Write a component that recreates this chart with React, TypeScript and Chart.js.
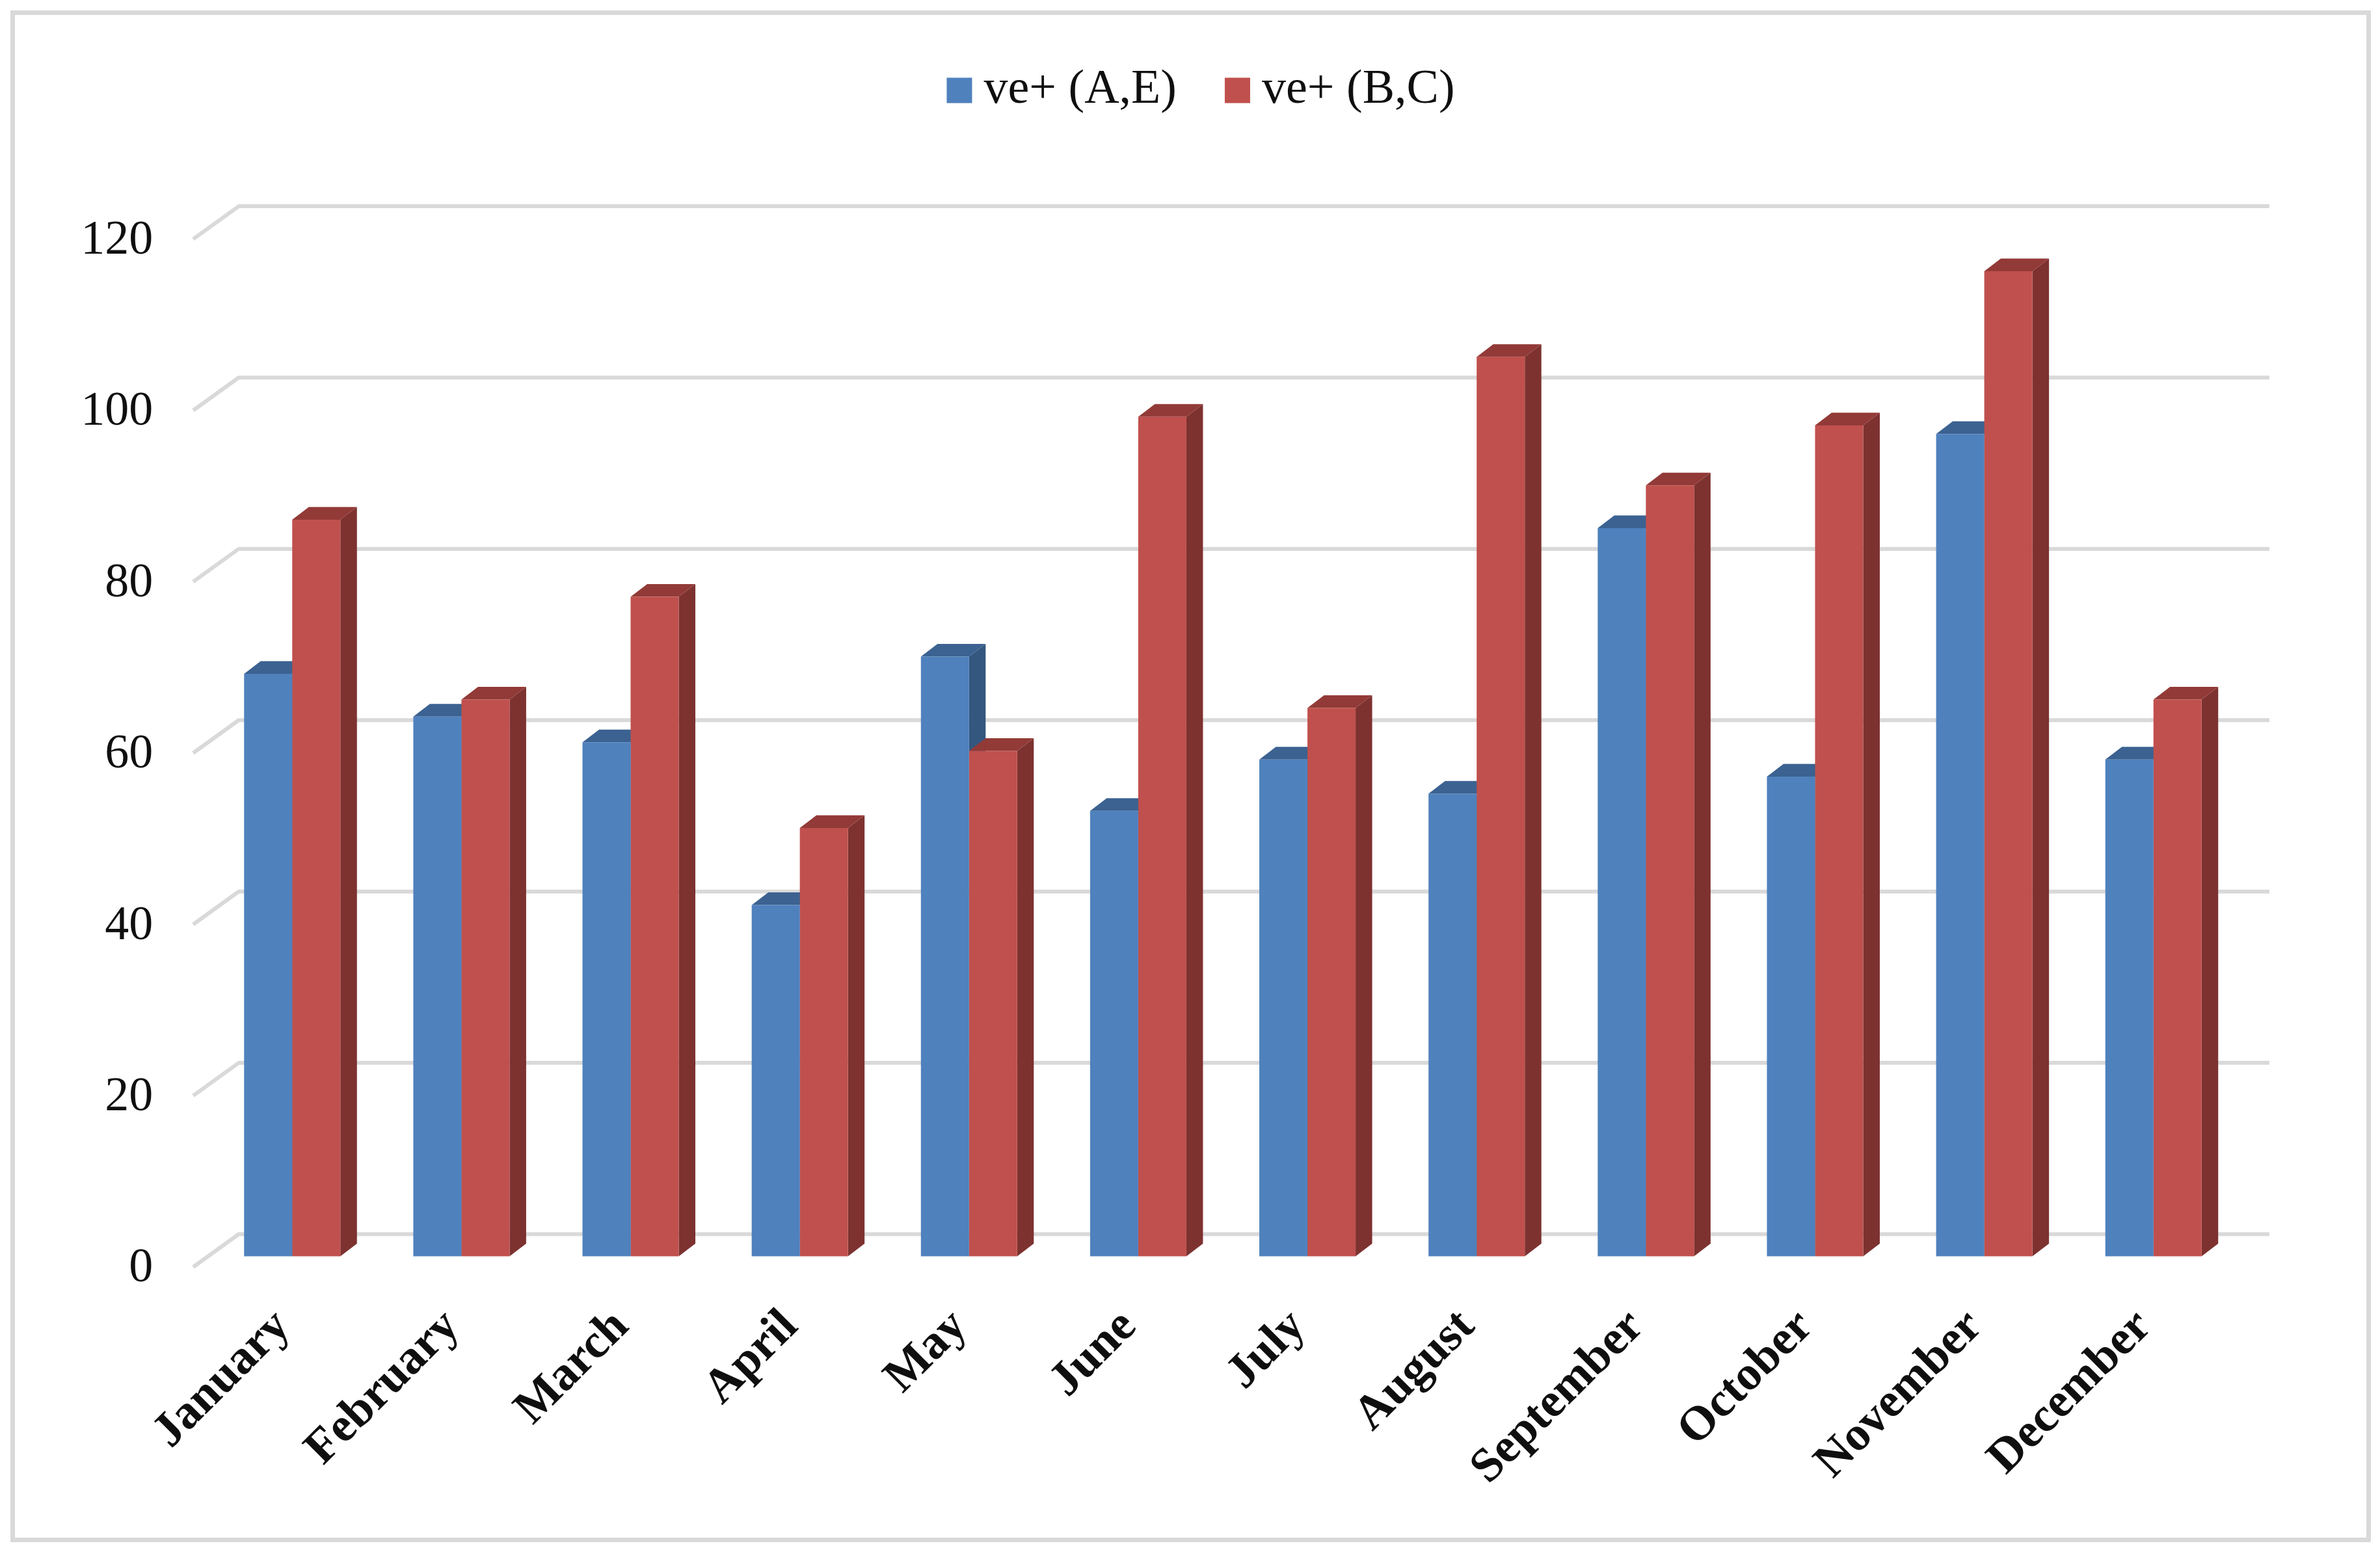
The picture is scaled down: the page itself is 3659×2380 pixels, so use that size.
import React, { useEffect, useRef } from "react";
import { Chart, registerables } from "chart.js";

Chart.register(...registerables);

const months = ["January", "February", "March", "April", "May", "June", "July", "August", "September", "October", "November", "December"];
const seriesAE = [68, 63, 60, 41, 70, 52, 58, 54, 85, 56, 96, 58];
const seriesBC = [86, 65, 77, 50, 59, 98, 64, 105, 90, 97, 115, 65];
const seriesNames = ["ve+ (A,E)", "ve+ (B,C)"];

const W = 3659;
const H = 2380;
const FONT = "'Liberation Serif', 'Times New Roman', serif";
const TEXT = "#0f0f0f";
const GRID = "#d9d9d9";
const UNIT = 13.17; // pixels per value unit
const LABEL_ZERO = 1951; // pixel of value 0 on the label axis
const BAR_ZERO = 1931.5; // pixel of value 0 for bar fronts
const DX = 25.5;
const DY = 19.5;

const faces = [
  { front: "#4f81bd", side: "#34577f", top: "#3b6291" },
  { front: "#c0504d", side: "#7d3230", top: "#923a37" },
];

const depthPlugin = {
  id: "depth",
  afterLayout(chart: any) {
    // the value labels sit left of the narrow axis box; widen the box so they are not clipped
    const y = chart.scales.y;
    y.left = 0;
    y.width = y.right;
  },
  beforeDraw(chart: any) {
    const { ctx } = chart;
    ctx.save();
    ctx.strokeStyle = GRID;
    ctx.lineWidth = 7;
    ctx.strokeRect(19.5, 19.5, 3622, 2348);
    ctx.restore();
  },
  beforeDatasetsDraw(chart: any) {
    const { ctx } = chart;
    const y = chart.scales.y;
    ctx.save();
    ctx.strokeStyle = GRID;
    ctx.lineWidth = 6;
    ctx.lineJoin = "round";
    y.ticks.forEach((t: any) => {
      const p = y.getPixelForValue(t.value);
      ctx.beginPath();
      ctx.moveTo(297, p - 3);
      ctx.lineTo(367, p - 53.5);
      ctx.lineTo(3489, p - 53.5);
      ctx.stroke();
    });
    // side and top faces of every bar, first series first so the second overlaps it
    faces.forEach((face, index) => {
      chart.getDatasetMeta(index).data.forEach((bar: any) => {
        const l = bar.x - bar.width / 2;
        const r = bar.x + bar.width / 2;
        ctx.fillStyle = face.side;
        ctx.beginPath();
        ctx.moveTo(r, bar.y);
        ctx.lineTo(r + DX, bar.y - DY);
        ctx.lineTo(r + DX, bar.base - DY);
        ctx.lineTo(r, bar.base);
        ctx.closePath();
        ctx.fill();
        ctx.fillStyle = face.top;
        ctx.beginPath();
        ctx.moveTo(l, bar.y);
        ctx.lineTo(l + DX, bar.y - DY);
        ctx.lineTo(r + DX, bar.y - DY);
        ctx.lineTo(r, bar.y);
        ctx.closePath();
        ctx.fill();
      });
    });
    ctx.restore();
  },
};

export default function App() {
  const ref = useRef<HTMLCanvasElement>(null);
  useEffect(() => {
    const chart: any = new Chart(ref.current as any, {
      type: "bar",
      plugins: [depthPlugin],
      data: {
        labels: months,
        datasets: [
          { label: seriesNames[0], data: seriesAE, backgroundColor: faces[0].front, yAxisID: "yBars", barPercentage: 1, categoryPercentage: 0.569 },
          { label: seriesNames[1], data: seriesBC, backgroundColor: faces[1].front, yAxisID: "yBars", barPercentage: 1, categoryPercentage: 0.569 },
        ],
      } as any,
      options: {
        animation: false,
        responsive: false,
        devicePixelRatio: 1,
        layout: { padding: { left: 270.2, right: 218.2, top: 9, bottom: 0 } },
        plugins: {
          tooltip: { enabled: false },
          legend: {
            display: true,
            position: "top",
            labels: {
              usePointStyle: true,
              pointStyle: "rect",
              boxWidth: 1,
              boxHeight: 39,
              padding: 93,
              color: TEXT,
              font: { family: FONT, size: 74 },
            },
          },
        },
        scales: {
          x: {
            grid: { display: false, drawTicks: false },
            border: { display: false },
            afterFit(s: any) {
              s.height = H - LABEL_ZERO;
              s.paddingLeft = 0;
              s.paddingRight = 0;
            },
            ticks: {
              color: TEXT,
              font: { family: FONT, size: 74, weight: "bold" },
              minRotation: 45,
              maxRotation: 45,
              autoSkip: false,
              padding: 46,
              labelOffset: -14,
            },
          },
          y: {
            position: "left",
            min: 0,
            max: 130,
            grid: { display: false, drawTicks: false },
            border: { display: false },
            afterFit(s: any) {
              s.width = 49;
            },
            ticks: {
              stepSize: 20,
              includeBounds: false,
              padding: 84,
              color: TEXT,
              font: { family: FONT, size: 74 },
            },
          },
          yBars: { display: false, min: 0, max: 130, position: "left" },
        },
      } as any,
    });
    const valueRange = (LABEL_ZERO - chart.chartArea.top) / UNIT;
    const barMin = (BAR_ZERO - LABEL_ZERO) / UNIT;
    chart.options.scales.y.max = valueRange;
    chart.options.scales.yBars.min = barMin;
    chart.options.scales.yBars.max = barMin + valueRange;
    chart.update();
    return () => chart.destroy();
  }, []);
  return <canvas ref={ref} width={W} height={H} style={{ position: "absolute", left: 0, top: 0, display: "block" }} />;
}
